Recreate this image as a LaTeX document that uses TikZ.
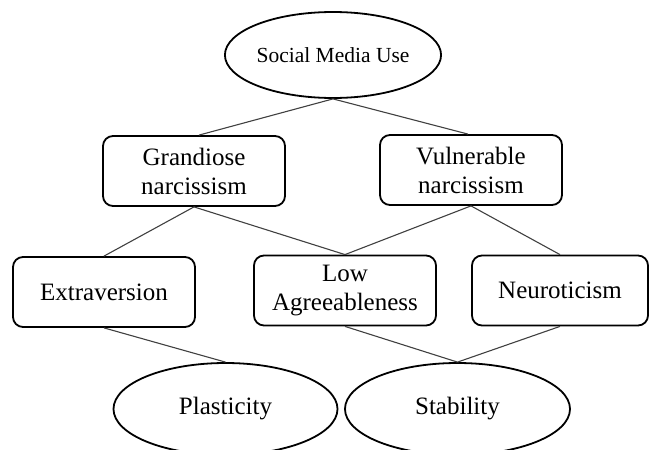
\documentclass[tikz,border=0pt]{standalone}
\usepackage{fontspec}
\setmainfont{Liberation Serif}
\usetikzlibrary{shapes.geometric}
\begin{document}
\begin{tikzpicture}[x=1pt,y=-1pt,
  box/.style={draw=black, line width=1.8pt, rounded corners=10pt,
    minimum width=182pt, minimum height=70pt, align=center, inner sep=0pt,
    font=\fontsize{25}{29}\selectfont},
  oval/.style={draw=black, line width=1.8pt, ellipse, inner sep=0pt,
    font=\fontsize{25}{29}\selectfont},
  link/.style={draw=black!75, line width=1.1pt}]
\path[use as bounding box] (0,0) rectangle (649,450);
\clip (0,0) rectangle (649,450);

% top construct
\node[oval, minimum width=190pt, minimum height=86pt,
  font=\fontsize{21.5}{25}\selectfont] (smu) at (333,55) {Social Media Use};

% narcissism dimensions
\node[box] (gn) at (194,171) {Grandiose\\narcissism};
\node[box] (vn) at (471,170) {Vulnerable\\narcissism};

% personality traits
\node[box] (ex) at (104,292) {Extraversion};
\node[box] (la) at (345,290.5) {Low\\Agreeableness};
\node[box, minimum width=176pt] (ne) at (560,290.5) {Neuroticism};

% meta-traits
\node[oval, minimum width=224pt, minimum height=92pt] (pl) at (225.5,409) {Plasticity};
\node[oval, minimum width=225pt, minimum height=92pt] (st) at (457.5,409) {Stability};

% connectors
\draw[link] (smu.south) -- ([xshift=5pt]gn.north);
\draw[link] (smu.south) -- ([xshift=-3pt]vn.north);
\draw[link] (gn.south) -- (ex.north);
\draw[link] (gn.south) -- (la.north);
\draw[link] (vn.south) -- (la.north);
\draw[link] (vn.south) -- (ne.north);
\draw[link] (ex.south) -- (pl.north);
\draw[link] (la.south) -- (st.north);
\draw[link] (ne.south) -- (st.north);
\end{tikzpicture}
\end{document}
